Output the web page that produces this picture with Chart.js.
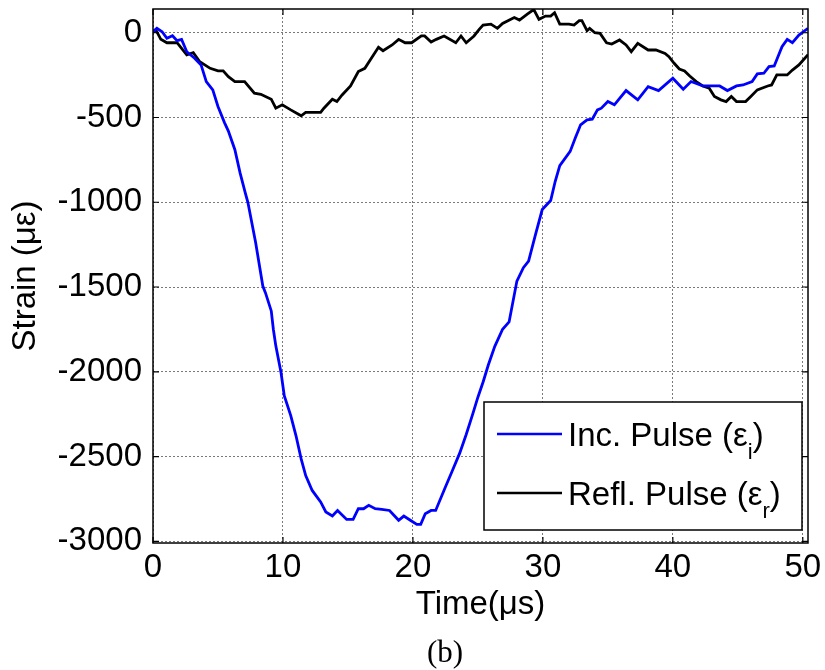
<!DOCTYPE html>
<html>
<head>
<meta charset="utf-8">
<script src="https://cdn.jsdelivr.net/npm/chart.js@4.4.1/dist/chart.umd.min.js"></script>
<style>
  html, body { margin: 0; padding: 0; background: #ffffff; }
  canvas { display: block; }
</style>
</head>
<body>
<canvas id="pulseChart" width="825" height="670"></canvas>
<script>
// Incident pulse: time (µs) and strain (µε)
const incTime = [0, 0.3, 0.7, 1.07, 1.5, 1.85, 2.2, 2.6, 3.2, 3.7, 4.1, 4.6, 5.0, 5.5, 5.8, 6.3, 6.7, 7.1, 7.3, 7.9,
  8.45, 8.65, 9.1, 9.26, 9.45, 9.85, 10.1, 10.6, 11.0, 11.4, 11.75, 12.25, 12.9, 13.3, 13.8, 14.2, 14.9, 15.4, 15.8, 16.2,
  16.6, 17.1, 17.6, 18.2, 18.9, 19.3, 19.8, 20.3, 20.6, 20.95, 21.4, 21.75, 22.5, 23.0, 23.6, 24.1, 24.6, 25.0, 25.4, 25.8,
  26.3, 26.9, 27.4, 28.0, 28.5, 28.9, 29.4, 29.95, 30.6, 30.95, 31.3, 32.1, 32.5, 32.75, 32.9, 33.4, 33.8, 34.2, 34.5, 35.0,
  35.5, 36.4, 37.3, 38.1, 38.9, 40.0, 40.8, 41.4, 42.3, 43.6, 44.2, 44.9, 45.4, 46.1, 46.5, 47.0, 47.4, 47.8, 48.4, 48.8,
  49.2, 49.7, 50.4];
const incStrain = [6, 26, 6, -33, -18, -47, -39, -112, -150, -190, -288, -337, -435, -530, -580, -690, -827, -945, -1000, -1239,
  -1494, -1533, -1641, -1749, -1847, -2004, -2141, -2259, -2376, -2514, -2612, -2700, -2768, -2827, -2851, -2818, -2871, -2871, -2808, -2808,
  -2788, -2808, -2812, -2818, -2876, -2851, -2876, -2900, -2900, -2837, -2818, -2818, -2680, -2590, -2480, -2370, -2250, -2150, -2060, -1960,
  -1850, -1749, -1706, -1465, -1386, -1347, -1200, -1043, -990, -876, -784, -700, -620, -572, -543, -514, -510, -455, -445, -406,
  -425, -341, -396, -318, -341, -268, -333, -288, -314, -314, -341, -314, -308, -288, -243, -239, -200, -196, -82, -39,
  -59, -14, 26];

// Reflected pulse: time (µs) and strain (µε)
const reflTime = [0, 0.25, 0.6, 1.07, 1.85, 2.6, 3.1, 3.6, 4.4, 5.0, 5.4, 5.8, 6.3, 7.05, 7.8, 8.3, 9.1, 9.45, 9.95, 10.6,
  11.4, 11.75, 12.9, 13.15, 13.8, 14.15, 14.55, 15.2, 15.8, 16.3, 16.8, 17.35, 17.7, 18.4, 18.9, 19.4, 19.9, 20.65, 20.9, 21.4,
  21.8, 22.4, 23.3, 23.7, 24.1, 24.7, 25.1, 25.4, 26.0, 26.5, 26.9, 27.8, 28.2, 28.8, 29.3, 29.7, 30.2, 30.6, 30.9, 31.3,
  32.0, 32.4, 32.8, 33.0, 33.4, 33.6, 34.0, 34.4, 34.9, 35.3, 35.9, 36.4, 36.8, 37.3, 38.1, 38.7, 39.4, 39.7, 40.1, 40.5,
  40.9, 41.3, 41.8, 42.3, 42.8, 43.2, 43.7, 44.1, 44.5, 44.9, 45.6, 46.0, 46.5, 47.3, 47.6, 48.0, 48.8, 49.2, 49.7, 50.4];
const reflStrain = [6, 12, -39, -59, -59, -131, -118, -171, -210, -225, -225, -259, -288, -288, -357, -363, -392, -445, -425, -455,
  -490, -470, -470, -445, -392, -406, -367, -314, -229, -210, -150, -86, -106, -72, -39, -59, -59, -19, -19, -55,
  -39, -19, -59, -19, -59, -19, 20, 45, 51, 26, 55, 90, 75, 110, 137, 79, 98, 98, 118, 51,
  51, 45, 71, 71, 12, 26, 0, -4, -59, -67, -43, -72, -112, -63, -102, -102, -122, -141, -180, -214,
  -225, -255, -288, -314, -327, -376, -396, -406, -376, -406, -406, -376, -337, -314, -308, -249, -249, -220, -190, -130];

// Axis ticks
const xTicks = [0, 10, 20, 30, 40, 50];
const yTicks = [0, -500, -1000, -1500, -2000, -2500, -3000];

// Legend entries: base label and subscript of the strain symbol
const seriesLabels = ['Inc. Pulse', 'Refl. Pulse'];
const seriesSubscripts = ['i', 'r'];
const seriesColors = ['#0000ff', '#000000'];

const SANS = '"Liberation Sans", Arial, sans-serif';
const SERIF = '"Liberation Serif", "Times New Roman", serif';

function toPoints(xs, ys) {
  return xs.map((x, i) => ({ x: x, y: ys[i] }));
}

// Box frame with inward tick marks on all four sides
const framePlugin = {
  id: 'frame',
  afterDatasetsDraw(chart) {
    const { ctx, chartArea: a, scales } = chart;
    const len = 6;
    ctx.save();
    ctx.strokeStyle = '#000';
    ctx.lineWidth = 1.5;
    ctx.strokeRect(a.left, a.top, a.right - a.left, a.bottom - a.top);
    ctx.lineWidth = 1.2;
    ctx.beginPath();
    scales.x.ticks.forEach(t => {
      const px = scales.x.getPixelForValue(t.value);
      ctx.moveTo(px, a.bottom); ctx.lineTo(px, a.bottom - len);
      ctx.moveTo(px, a.top); ctx.lineTo(px, a.top + len);
    });
    scales.y.ticks.forEach(t => {
      const py = scales.y.getPixelForValue(t.value);
      ctx.moveTo(a.left, py); ctx.lineTo(a.left + len, py);
      ctx.moveTo(a.right, py); ctx.lineTo(a.right - len, py);
    });
    ctx.stroke();
    ctx.restore();
  }
};

// Boxed legend in the lower right corner with subscripted symbols
const legendPlugin = {
  id: 'subLegend',
  afterDraw(chart) {
    const { ctx, chartArea: a } = chart;
    const w = 318, h = 128;
    const right = a.right - 6, bottom = a.bottom - 13;
    const left = right - w, top = bottom - h;
    ctx.save();
    ctx.fillStyle = '#fff';
    ctx.fillRect(left, top, w, h);
    ctx.strokeStyle = '#000';
    ctx.lineWidth = 1.5;
    ctx.strokeRect(left, top, w, h);
    const rows = [top + 32, top + 91];
    chart.data.datasets.forEach((ds, i) => {
      const y = rows[i];
      ctx.strokeStyle = ds.borderColor;
      ctx.lineWidth = 2.5;
      ctx.beginPath();
      ctx.moveTo(left + 13, y);
      ctx.lineTo(left + 78, y);
      ctx.stroke();
      ctx.fillStyle = '#000';
      ctx.textBaseline = 'alphabetic';
      ctx.textAlign = 'left';
      const base = y + 12;
      let x = left + 84;
      ctx.font = '33px ' + SANS;
      const main = seriesLabels[i] + ' (\u03b5';
      ctx.fillText(main, x, base);
      x += ctx.measureText(main).width;
      ctx.font = '22px ' + SANS;
      ctx.fillText(seriesSubscripts[i], x, base + 13);
      x += ctx.measureText(seriesSubscripts[i]).width;
      ctx.font = '33px ' + SANS;
      ctx.fillText(')', x, base);
    });
    ctx.restore();
  }
};

// Figure caption under the axis title
const captionPlugin = {
  id: 'caption',
  afterDraw(chart) {
    const ctx = chart.ctx;
    ctx.save();
    ctx.fillStyle = '#000';
    ctx.font = '31px ' + SERIF;
    ctx.textAlign = 'center';
    ctx.textBaseline = 'middle';
    ctx.fillText('(b)', 445, 654);
    ctx.restore();
  }
};

new Chart(document.getElementById('pulseChart'), {
  type: 'line',
  data: {
    datasets: [
      {
        label: seriesLabels[0] + ' (\u03b5' + seriesSubscripts[0] + ')',
        data: toPoints(incTime, incStrain),
        borderColor: seriesColors[0],
        borderWidth: 2.8,
        pointRadius: 0,
        tension: 0,
        fill: false
      },
      {
        label: seriesLabels[1] + ' (\u03b5' + seriesSubscripts[1] + ')',
        data: toPoints(reflTime, reflStrain),
        borderColor: seriesColors[1],
        borderWidth: 2.8,
        pointRadius: 0,
        tension: 0,
        fill: false
      }
    ]
  },
  options: {
    responsive: false,
    animation: false,
    devicePixelRatio: 1,
    layout: { padding: { top: 9, right: 17, left: 0, bottom: 0 } },
    plugins: {
      legend: { display: false },
      tooltip: { enabled: false }
    },
    scales: {
      x: {
        type: 'linear',
        min: 0,
        max: 50.4,
        afterBuildTicks: s => { s.ticks = xTicks.map(v => ({ value: v })); },
        afterFit: s => { s.height = 127; s.paddingLeft = 0; s.paddingRight = 0; },
        grid: { color: '#7a7a7a', lineWidth: 1, drawTicks: false },
        border: { display: false, dash: [2, 2] },
        ticks: {
          color: '#000',
          padding: 5,
          maxRotation: 0,
          callback: v => String(v),
          font: { family: SANS, size: 33 }
        },
        title: {
          display: true,
          text: 'Time(\u03bcs)',
          color: '#000',
          font: { family: SANS, size: 33 },
          padding: { top: 0, bottom: 45 }
        }
      },
      y: {
        type: 'linear',
        min: -3010,
        max: 140,
        afterBuildTicks: s => { s.ticks = yTicks.map(v => ({ value: v })); },
        afterFit: s => { s.width = 153; s.paddingTop = 0; s.paddingBottom = 0; },
        grid: { color: '#7a7a7a', lineWidth: 1, drawTicks: false },
        border: { display: false, dash: [2, 2] },
        ticks: {
          color: '#000',
          padding: 11,
          callback: v => String(v),
          font: { family: SANS, size: 33 }
        },
        title: {
          display: true,
          text: 'Strain (\u03bc\u03b5)',
          color: '#000',
          font: { family: SANS, size: 33 },
          padding: { top: 6, bottom: 0 }
        }
      }
    }
  },
  plugins: [framePlugin, legendPlugin, captionPlugin]
});
</script>
</body>
</html>
